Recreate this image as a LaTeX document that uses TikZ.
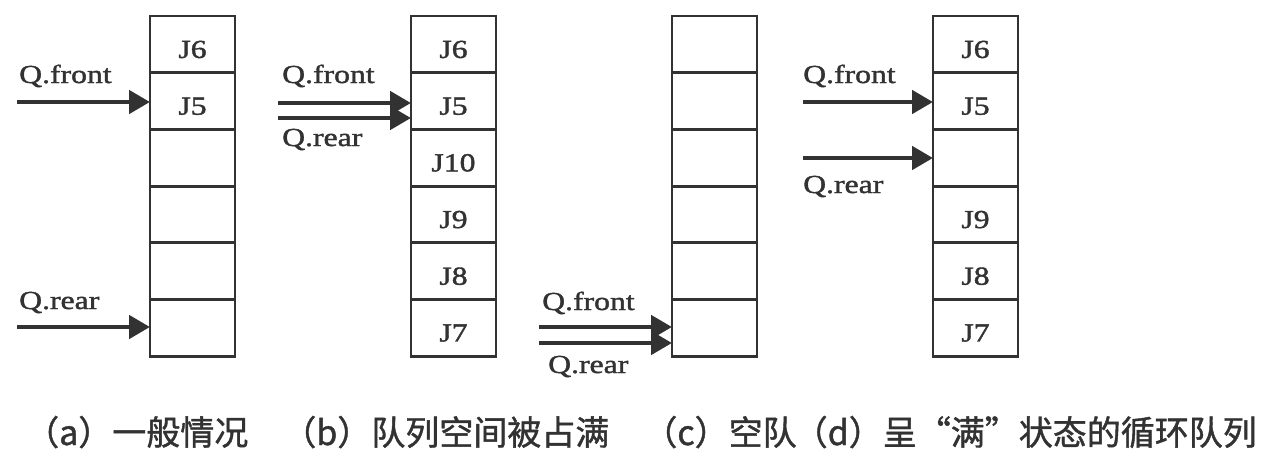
\documentclass[tikz,border=0pt]{standalone}
\usepackage{fontspec}
\newfontfamily\lab{Liberation Serif}[FakeStretch=1.22,FakeBold=1.5]
\newfontfamily\cjk{Noto Sans CJK SC}[FakeBold=1.2]
\usetikzlibrary{arrows.meta}
\definecolor{ink}{RGB}{50,50,50}
\begin{document}
\begin{tikzpicture}[x=1pt,y=-1pt,
  cell/.style={draw=ink,line width=2.8pt,minimum width=85pt,minimum height=56.7pt,inner sep=0pt,outer sep=0pt},
  jtxt/.style={font=\lab\fontsize{26}{28}\selectfont,text=ink,inner sep=0pt,anchor=base},
  qtxt/.style={font=\lab\fontsize{26}{28}\selectfont,text=ink,inner sep=0pt,anchor=base west},
  ptr/.style={draw=ink,line width=4.8pt,-{Triangle[length=21pt,width=23pt]}},
  captxt/.style={font=\cjk\fontsize{34}{36}\selectfont,text=ink,inner sep=0pt}
]
\useasboundingbox (0,0) rectangle (1283,461);
\fill[white] (0,0) rectangle (1283,461);
% cells
\foreach \c/\x in {a/192.5,b/453.5,c/714.5,d/975.5}
  \foreach \i in {1,...,6}
    \node[cell] (\c\i) at (\x,{44.35+(\i-1)*56.7}) {};
% cell texts
\foreach \c/\i/\t in {a/1/J6,a/2/J5,
                      b/1/J6,b/2/J5,b/3/J10,b/4/J9,b/5/J8,b/6/J7,
                      d/1/J6,d/2/J5,d/4/J9,d/5/J8,d/6/J7}
  \node[jtxt] (t\c\i) at ([yshift=-13.6pt]\c\i.center) {\t};
% pointer starts
\coordinate (fa) at (17,102);
\coordinate (ra) at (17,327);
\coordinate (fb) at (278,103);
\coordinate (rb) at (278,118);
\coordinate (fc) at (539,327);
\coordinate (rc) at (539,343);
\coordinate (fd) at (803,102);
\coordinate (rd) at (803,158);
% pointers
\draw[ptr] (fa) -- (fa -| a2.west);
\draw[ptr] (ra) -- (ra -| a6.west);
\draw[ptr] (fb) -- (fb -| b2.west);
\draw[ptr] (rb) -- (rb -| b2.west);
\draw[ptr] (fc) -- (fc -| c6.west);
\draw[ptr] (rc) -- (rc -| c6.west);
\draw[ptr] (fd) -- (fd -| d2.west);
\draw[ptr] (rd) -- (rd -| d3.west);
% pointer labels
\node[qtxt] (lfa) at (19,83) {Q.front};
\node[qtxt] (lra) at (19,309) {Q.rear};
\node[qtxt] (lfb) at (282,83) {Q.front};
\node[qtxt] (lrb) at (282,146) {Q.rear};
\node[qtxt] (lfc) at (542,310) {Q.front};
\node[qtxt] (lrc) at (548,373) {Q.rear};
\node[qtxt] (lfd) at (803,83) {Q.front};
\node[qtxt] (lrd) at (803,193) {Q.rear};
% caption
\node[captxt,anchor=base west] (cap1) at (25,445) {（a）一般情况　（b）队列空间被占满　（c）空队};
\node[captxt,anchor=base east] (cap2) at (1257,445) {（d）呈“满”状态的循环队列};
\end{tikzpicture}
\end{document}
